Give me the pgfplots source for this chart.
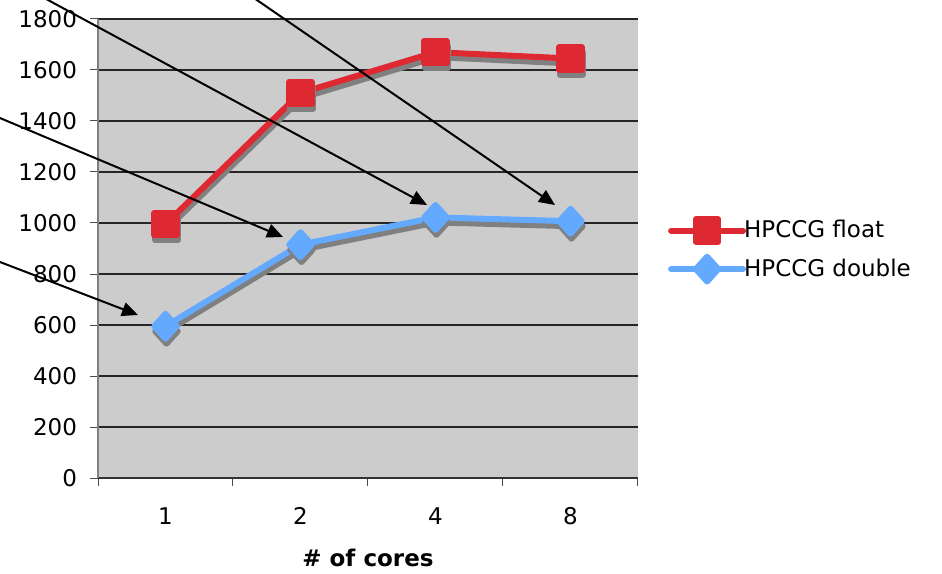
\documentclass[border=0pt]{standalone}
\usepackage{pgfplots}
\pgfplotsset{compat=1.18}
\usepackage{fontspec}
\setmainfont{DejaVu Sans}
\usetikzlibrary{arrows.meta}
\definecolor{redline}{RGB}{222,41,51}
\definecolor{blueline}{RGB}{99,170,255}
\definecolor{shadow}{RGB}{128,128,128}
\begin{document}
\begin{tikzpicture}
\begin{axis}[
  at={(0,0)}, anchor=south west,
  scale only axis, width=270pt, height=229.5pt,
  xmin=-0.5, xmax=3.5, ymin=0, ymax=1800,
  ytick={0,200,...,1800},
  xtick={-0.5,0.5,1.5,2.5,3.5}, xticklabels={},
  extra x ticks={0,1,2,3}, extra x tick labels={1,2,4,8},
  extra x tick style={major tick length=0pt, grid=none},
  tick align=outside, major tick length=4pt,
  tick style={color=black!70, line width=0.5pt},
  axis x line*=bottom, axis y line*=left,
  axis line style={color=shadow, line width=0.6pt},
  x axis line style={color=black!80},
  ymajorgrids, xmajorgrids=false,
  grid style={color=black!85, line width=0.55pt},
  axis background/.style={fill=gray!40},
  /pgf/number format/assume math mode=true,
  /pgf/number format/set thousands separator={},
  ticklabel style={font=\fontsize{11.5}{13.5}\selectfont},
  yticklabel style={anchor=east, xshift=-3pt},
  xticklabel style={anchor=center, yshift=-19pt},
  xlabel={\textbf{\# of cores}},
  xlabel style={font=\fontsize{11.5}{13.5}\selectfont, at={(axis description cs:0.5,0)}, anchor=center, yshift=-40pt},
  clip=false,
  legend style={draw=none, fill=none, at={(axis description cs:1.055,0.497)}, anchor=west,
    font=\fontsize{11.5}{13.5}\selectfont, inner sep=0pt, row sep=5pt,
    /tikz/every odd column/.append style={column sep=-3pt}},
  legend cell align=left,
  legend image code/.code={\draw[mark repeat=2, mark phase=2, #1] plot coordinates {(0pt,0pt) (18pt,0pt) (36pt,0pt)};},
]
\addplot[shadow, line width=3pt, line cap=round, line join=round, mark=square*, mark size=5.6pt, yshift=-2.5pt, xshift=0.5pt, forget plot]
  coordinates {(0,995) (1,1510) (2,1670) (3,1645)};
\addplot[redline, line width=3pt, line cap=round, line join=round, mark=square*, mark size=5.6pt]
  coordinates {(0,995) (1,1510) (2,1670) (3,1645)};
\addlegendentry{HPCCG float}
\addplot[shadow, line width=3pt, line cap=round, line join=round, mark=diamond*, mark size=6.2pt, mark options={xscale=1.2}, yshift=-2.5pt, xshift=0.5pt, forget plot]
  coordinates {(0,595) (1,915) (2,1022) (3,1007)};
\addplot[blueline, line width=3pt, line cap=round, line join=round, mark=diamond*, mark size=6.2pt, mark options={xscale=1.2}]
  coordinates {(0,595) (1,915) (2,1022) (3,1007)};
\addlegendentry{HPCCG double}
\end{axis}
\begin{scope}[x=1pt, y=1pt, line width=1pt, -{Triangle[length=8pt,width=7pt]}]
\draw (-35,244.4) -- (164.5,136.5);
\draw (72,244.1) -- (228.5,136.5);
\draw (-55,182.5) -- (92.5,120.5);
\draw (-55,110.3) -- (20,81.5);
\end{scope}
\pgfresetboundingbox
\path[use as bounding box] (-49pt,-47.5pt) rectangle (422pt,239pt);
\end{tikzpicture}
\end{document}
